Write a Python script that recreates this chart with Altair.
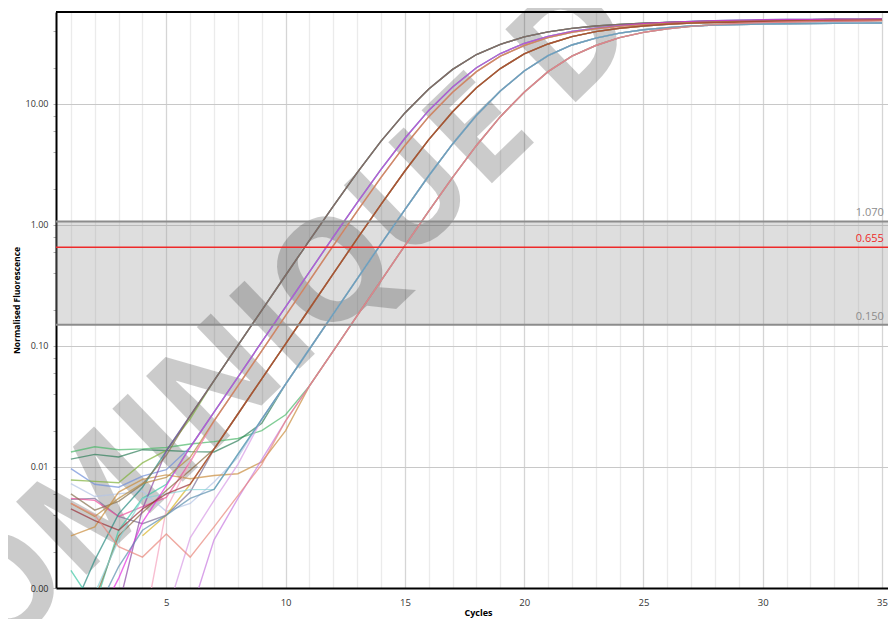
import altair as alt
import pandas as pd

# ---------------- data ----------------
CYCLES = list(range(1, 36))
X_DOMAIN = [0.375, 35.25]
Y_DOMAIN = [0.001, 57.5]
Y_DECADES = [0.001, 0.01, 0.1, 1, 10]
Y_MINOR = [0.002, 0.004, 0.006, 0.008, 0.02, 0.04, 0.06, 0.08,
           0.2, 0.4, 0.6, 0.8, 2, 4, 6, 8, 20, 40]
X_TICKS = list(range(1, 36))

THRESH_HIGH = 1.070
THRESHOLD = 0.655
THRESH_LOW = 0.150
LABEL_CYCLE = 33.9

# late (amplification) profiles: (first cycle, values)
PROFILES = {
    "A": (4, [0.00698, 0.0136, 0.0265, 0.0518, 0.101, 0.197, 0.384, 0.746, 1.43, 2.71,
              4.93, 8.43, 13.3, 19.3, 25.6, 31.1, 35.8, 39.4, 42.1, 44.0, 45.4, 46.4,
              47.1, 47.8, 48.3, 48.6, 48.9, 49.3, 49.6, 49.8, 50.0, 50.2]),
    "B": (5, [0.00746, 0.01456, 0.0284, 0.0553, 0.108, 0.210, 0.410, 0.796, 1.53, 2.88,
              5.21, 8.84, 13.8, 19.9, 26.1, 31.6, 36.2, 39.7, 42.3, 44.4, 46.0, 47.2,
              48.1, 48.8, 49.3, 49.6, 49.8, 50.0, 50.1, 50.2, 50.3]),
    "C": (5, [0.00631, 0.0123, 0.024, 0.0468, 0.0912, 0.178, 0.347, 0.676, 1.30, 2.47,
              4.54, 7.85, 12.5, 18.5, 24.8, 30.4, 35.3, 39.0, 41.8, 43.7, 45.2, 46.2,
              47.0, 47.5, 48.0, 48.3, 48.5, 48.8, 49.0, 49.1, 49.2]),
    "D": (6, [0.00721, 0.01406, 0.0274, 0.0535, 0.104, 0.203, 0.396, 0.771, 1.48, 2.79,
              5.07, 8.63, 13.6, 19.6, 25.9, 31.3, 36.0, 39.6, 42.2, 44.1, 45.5, 46.5,
              47.1, 47.6, 48.1, 48.4, 48.6, 48.9, 49.0, 49.1]),
    "E": (7, [0.00653, 0.01274, 0.0248, 0.0484, 0.0944, 0.184, 0.359, 0.699, 1.34, 2.55,
              4.67, 8.05, 12.8, 18.7, 25.1, 30.7, 35.0, 38.5, 41.0, 42.7, 44.0, 44.8,
              45.3, 45.7, 46.0, 46.2, 46.4, 46.5, 46.6]),
    "F": (8, [0.00631, 0.0123, 0.024, 0.0468, 0.0912, 0.178, 0.347, 0.676, 1.30, 2.47,
              4.54, 7.85, 12.5, 18.5, 24.8, 30.4, 35.3, 39.0, 41.8, 43.7, 45.2, 46.2,
              47.0, 47.5, 48.0, 48.3, 48.5, 48.8]),
}

# wells: name, colour, profile, early (baseline) values from cycle 1
CURVES = [
    ("W01", "#4cb86a", "F", [0.0133, 0.0147, 0.0139, 0.0141, 0.0145, 0.0155, 0.0162, 0.0172, 0.0200, 0.0270]),
    ("W02", "#2f7f5a", "E", [0.0116, 0.0127, 0.0121, 0.0139, 0.0137, 0.0134, 0.0133, 0.0165, 0.0230]),
    ("W03", "#6f8fd8", "B", [0.0097, 0.0072, 0.0068, 0.0084, 0.0095]),
    ("W04", "#7fb03a", "A", [0.0078, 0.0076, 0.0074, 0.0108, 0.0137, 0.0250]),
    ("W05", "#b4c4e6", "E", [0.0073, 0.0057, 0.0060, 0.0063, 0.0043, 0.0050, 0.0075, 0.0120]),
    ("W06", "#7a6e94", "D", [0.0054, 0.0055, 0.0039, 0.0034, 0.0040, 0.0062]),
    ("W07", "#ee4d9a", "C", [0.0055, 0.0053, 0.0039, 0.0047, 0.0056, 0.0110]),
    ("W08", "#c98b3c", "F", [0.0027, 0.0032, 0.0062, 0.0079, 0.0086, 0.0080, 0.0085, 0.0088, 0.0110, 0.0200]),
    ("W09", "#3cc7a4", "B", [0.0014, 0.0007, 0.0030, 0.0055, 0.0072]),
    ("W10", "#2b8c82", "A", [0.0006, 0.0017, 0.0041, 0.0068]),
    ("W11", "#8b6a3e", "D", [0.0003, 0.0008, 0.0027, 0.0042, 0.0064, 0.0094]),
    ("W12", "#8d4aa6", "A", [0.0002, 0.0003, 0.0007, 0.0045]),
    ("W13", "#f5a3bd", "C", [0.0002, 0.0002, 0.0003, 0.0004, 0.0045, 0.0110]),
    ("W14", "#d8b425", "D", [None, None, None, 0.0027, 0.0040, 0.0072]),
    ("W15", "#d79be6", "E", [0.0002, 0.0002, 0.0002, 0.0003, 0.0006, 0.0026, 0.0053, 0.0105]),
    ("W16", "#c77ae0", "F", [0.0002, 0.0002, 0.0002, 0.0002, 0.0002, 0.0006, 0.0025, 0.0055, 0.0115]),
    ("W17", "#86d3d6", "E", [0.0003, 0.0009, 0.0025, 0.0055, 0.0060, 0.0065]),
    ("W18", "#86704e", "A", [0.0060, 0.0044, 0.0052, 0.0072, 0.0125]),
    ("W19", "#e22ee0", "B", [0.0003, 0.0005, 0.0012, 0.0035, 0.0070]),
    ("W20", "#b88a3c", "C", [0.0050, 0.0039, 0.0055, 0.0073, 0.0082, 0.0120]),
    ("W21", "#9a2f38", "D", [0.0045, 0.0036, 0.0030, 0.0045, 0.0060]),
    ("W22", "#5b8fae", "E", [0.0004, 0.0006, 0.0015, 0.0030, 0.0040, 0.0055]),
    ("W23", "#e8867a", "F", [0.0050, 0.0040, 0.0022, 0.0018, 0.0028, 0.0018, 0.0032, 0.0058, 0.0105]),
]

WATERMARK = "DOMINIQUE D"

# ---------------- build table ----------------
rows = []
for order, (name, color, prof, early) in enumerate(CURVES):
    start, late = PROFILES[prof]
    for c in CYCLES:
        if c <= len(early):
            v = early[c - 1]
        else:
            v = late[c - start]
        if v is not None:
            rows.append({"well": name, "cycle": c, "value": v, "ord": order})
df = pd.DataFrame(rows)

FONT = "Open Sans"
x_scale = alt.Scale(domain=X_DOMAIN, nice=False, zero=False)
y_scale = alt.Scale(type="log", domain=Y_DOMAIN, nice=False)

decade_test = "indexof([0.001, 0.01, 0.1, 1, 10], datum.value) >= 0"

x_axis = alt.Axis(
    values=X_TICKS,
    labelExpr="datum.value % 5 === 0 ? datum.label : ''",
    grid=True,
    gridColor={"condition": {"test": "datum.value % 5 === 0", "value": "#d5d5d5"}, "value": "#ebebeb"},
    gridWidth=1.3,
    ticks=False,
    domainColor="#000000",
    domainWidth=2,
    labelFont=FONT, labelFontSize=9.5, labelColor="#333333", labelPadding=9,
    labelOverlap=False, labelFlush=False,
    title="Cycles", titleFont=FONT, titleFontSize=9, titleFontWeight="bold",
    titleColor="#000000", titlePadding=2, titleX=422,
)
y_axis = alt.Axis(
    values=Y_DECADES + Y_MINOR,
    labelExpr=decade_test + " ? format(datum.value, '.2f') : ''",
    grid=True,
    gridColor="#c8c8c8",
    gridOpacity={"condition": {"test": decade_test, "value": 1}, "value": 0},
    tickSize=3, tickColor="#b0b0b0",
    domainColor="#000000", domainWidth=2,
    labelFont=FONT, labelFontSize=9, labelColor="#333333", labelPadding=5,
    labelOverlap=False,
    title="Normalised Fluorescence", titleFont=FONT, titleFontSize=8.5,
    titleFontWeight="bold", titleColor="#000000", titlePadding=4,
)

band = alt.Chart(pd.DataFrame({"x": [X_DOMAIN[0]], "x2": [X_DOMAIN[1]],
                               "lo": [THRESH_LOW], "hi": [THRESH_HIGH]})).mark_rect(
    color="#9a9a9a", opacity=0.33
).encode(
    x=alt.X("x:Q", scale=x_scale, axis=x_axis),
    x2="x2:Q",
    y=alt.Y("lo:Q", scale=y_scale, axis=y_axis),
    y2="hi:Q",
)

wm = alt.Chart(pd.DataFrame({"t": [WATERMARK]})).mark_text(
    font=FONT, fontWeight="bold", fontSize=142, angle=316, align="right",
    baseline="alphabetic", color="#000000", opacity=0.2,
).encode(
    x=alt.value(586), y=alt.value(26), text="t:N",
)

lines = alt.Chart(df).mark_line(strokeWidth=1.4, opacity=0.7, clip=True).encode(
    x=alt.X("cycle:Q", scale=x_scale, axis=x_axis),
    y=alt.Y("value:Q", scale=y_scale, axis=y_axis),
    color=alt.Color("well:N", scale=alt.Scale(domain=[c[0] for c in CURVES],
                                              range=[c[1] for c in CURVES]), legend=None),
    order=alt.Order("cycle:Q"),
)

thr = pd.DataFrame({
    "v": [THRESH_HIGH, THRESHOLD, THRESH_LOW],
    "label": ["1.070", "0.655", "0.150"],
    "kind": ["limit", "threshold", "limit"],
    "cx": [LABEL_CYCLE] * 3,
})
kind_color = alt.Scale(domain=["limit", "threshold"], range=["#8c8c8c", "#ee2a2a"])

thr_lines = alt.Chart(thr).mark_rule().encode(
    y=alt.Y("v:Q", scale=y_scale, axis=y_axis),
    color=alt.Color("kind:N", scale=kind_color, legend=None),
    strokeWidth=alt.StrokeWidth("kind:N", scale=alt.Scale(domain=["limit", "threshold"], range=[2, 1.6]), legend=None),
)

thr_text = alt.Chart(thr).mark_text(align="left", baseline="alphabetic", dy=-5,
                                    font=FONT, fontSize=11).encode(
    x=alt.X("cx:Q", scale=x_scale, axis=x_axis),
    y=alt.Y("v:Q", scale=y_scale, axis=y_axis),
    text="label:N",
    color=alt.Color("kind:N", scale=kind_color, legend=None),
)

top = alt.Chart(pd.DataFrame({"v": [Y_DOMAIN[1]]})).mark_rule(color="#000000", strokeWidth=2).encode(
    y=alt.Y("v:Q", scale=y_scale, axis=y_axis),
)

chart = alt.layer(band, wm, lines, thr_lines, thr_text, top).properties(
    width=832, height=576,
    autosize=alt.AutoSizeParams(type="none"),
    padding={"left": 48, "top": 4, "right": 0, "bottom": 31},
).configure_view(stroke=None).resolve_scale(color="independent")

chart.save("out.html", embed_options={"renderer": "svg", "actions": False})
